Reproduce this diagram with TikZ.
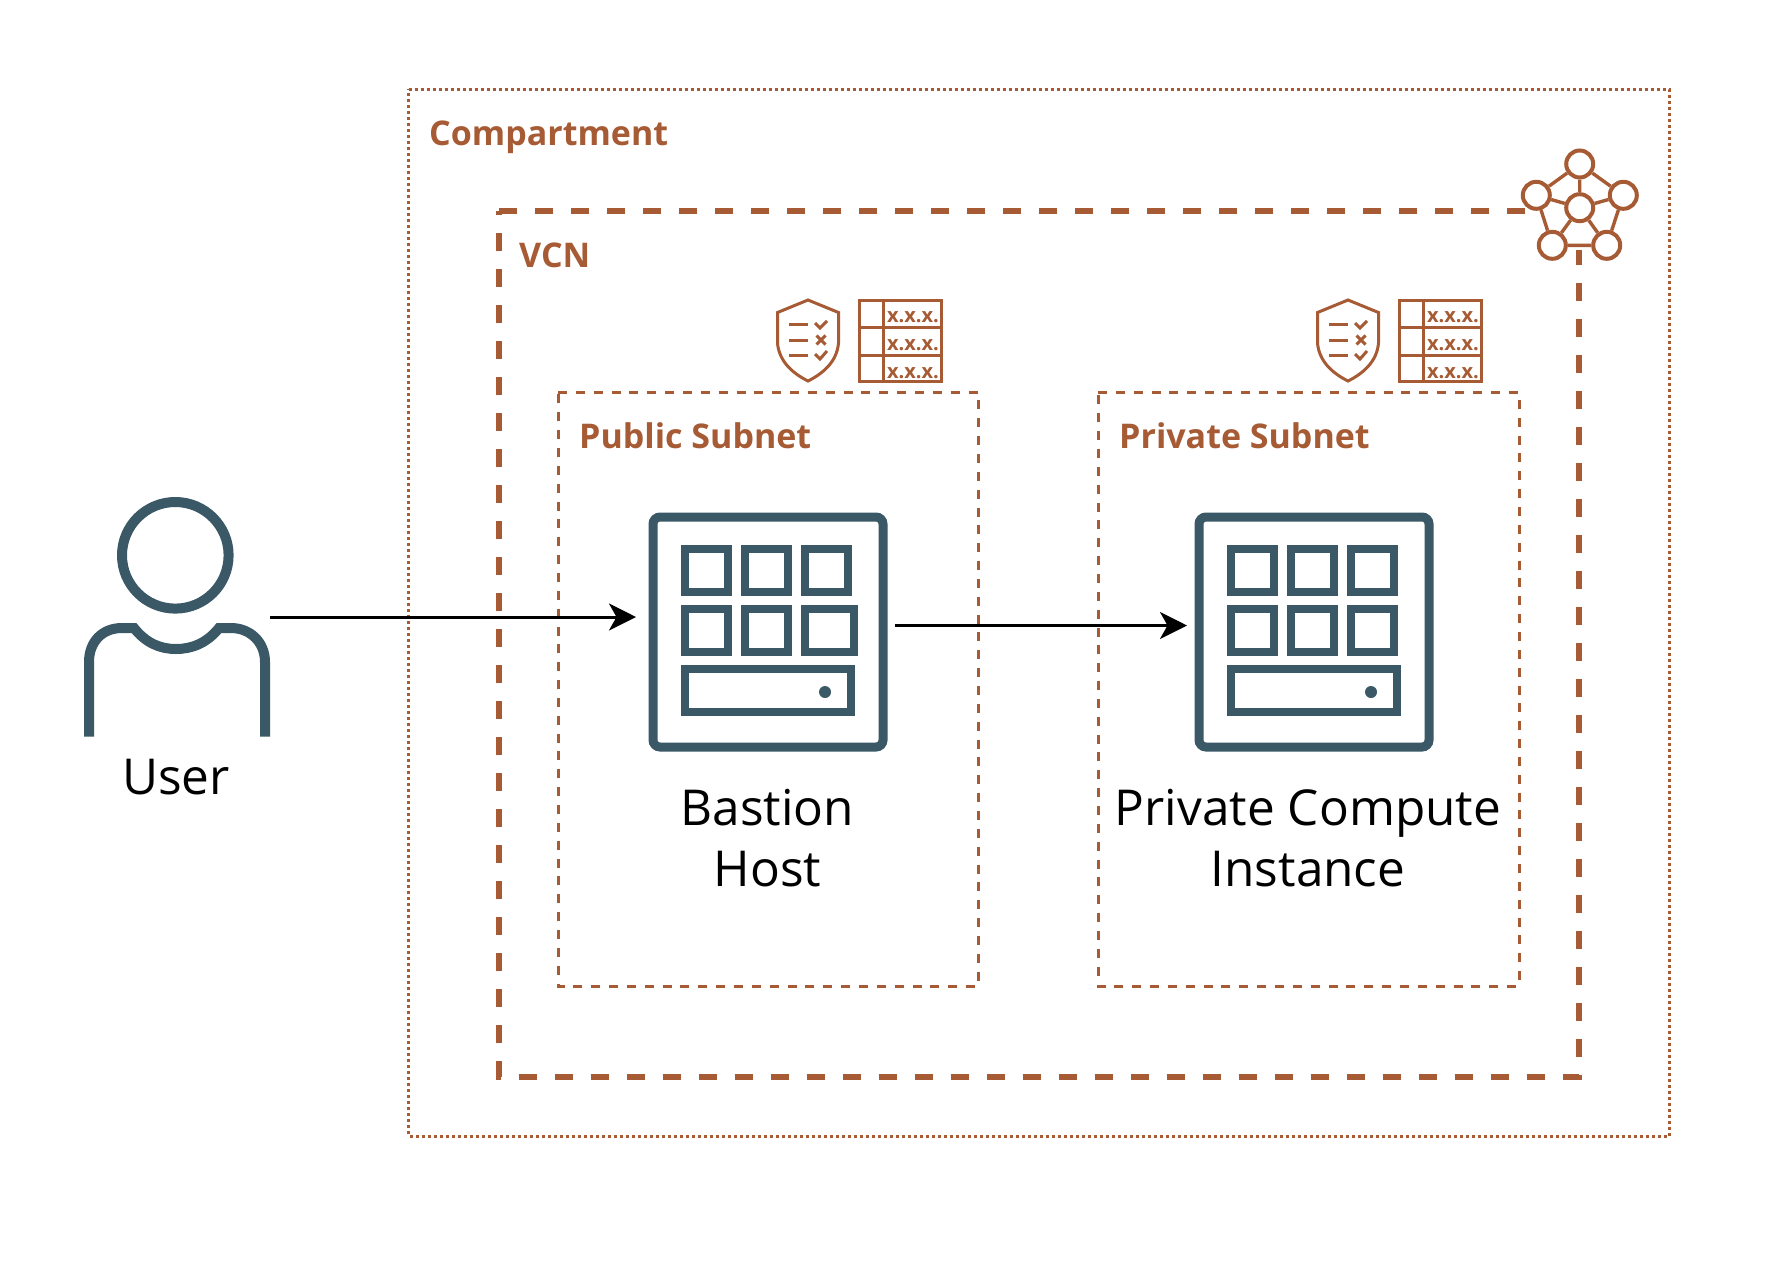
\documentclass[tikz,border=0pt]{standalone}
\usepackage{fontspec}
\setmainfont{Open Sans}
\usetikzlibrary{arrows.meta}
\definecolor{rust}{HTML}{A65B34}
\definecolor{slate}{HTML}{3A5866}
\tikzset{
  x=1pt,y=-1pt,
  compartmentbox/.style={draw=rust,line width=3pt,dash pattern=on 3pt off 3pt},
  vcnbox/.style={draw=rust,line width=6pt,dash pattern=on 18pt off 18pt,line join=miter},
  subnetbox/.style={draw=rust,line width=3pt,dash pattern=on 9pt off 8.85pt},
  rustlabel/.style={text=rust,font=\bfseries\fontsize{34}{42}\selectfont,anchor=base west,inner sep=0pt},
  blacklabel/.style={text=black,font=\fontsize{49.5}{61}\selectfont,align=center,anchor=base,inner sep=0pt},
  iconline/.style={draw=slate,line width=8pt},
  rustline/.style={draw=rust,line width=3pt},
  vcndisc/.style={circle,draw=rust,line width=4pt,fill=white,minimum size=27pt,inner sep=0pt},
  flow/.style={draw=black,line width=3pt,-{Stealth[length=27pt,width=27pt,inset=7.5pt]}},
  anchorbox/.style={minimum width=#1,minimum height=240pt,inner sep=0pt,outer sep=0pt},
  iptext/.style={text=rust,font=\bfseries\fontsize{20}{20}\selectfont,inner sep=0pt},
  server/.pic={
    \draw[iconline,line width=9pt,rounded corners=7pt] (-115,-115) rectangle (115,115);
    \foreach \a/\b/\c/\d in {-83/-83/-40/-40,-23/-83/20/-40,37/-83/80/-40,-83/-23/-40/20,-23/-23/20/20,-83/37/83/80}
      \draw[iconline] (\a,\b) rectangle (\c,\d);
    \fill[slate] (57,60) circle (6);
  },
  guard/.pic={
    \draw[rustline,line join=miter] (0,1) -- (30.5,13.5) -- (30.5,44) .. controls (29,62) and (16,74) .. (0,82) .. controls (-16,74) and (-29,62) .. (-30.5,44) -- (-30.5,13.5) -- cycle;
    \foreach \yy in {25,41,56} \draw[rustline] (-19,\yy) -- (0,\yy);
    \draw[rustline] (7,24) -- (12,29) -- (19,22);
    \draw[rustline] (8.5,36.5) -- (17.5,45.5) (17.5,36.5) -- (8.5,45.5);
    \draw[rustline] (7,55) -- (12,60) -- (19,52);
    \draw[rustline] (51,1) rectangle (133,82);
    \draw[rustline] (75,1) -- (75,82) (51,28) -- (133,28) (51,56) -- (133,56);
    \foreach \yy in {18,46,74} \node[iptext] at (105,\yy) {x.x.x.};
  }
}
\begin{document}
\begin{tikzpicture}
\useasboundingbox (0,0) rectangle (1780,1286);
\fill[white] (0,0) rectangle (1780,1286);
% containers
\draw[compartmentbox] (408.5,89) -- (1669,89) -- (1669,1136) -- (408.5,1136) -- cycle;
\draw[vcnbox] (499,211) -- (1579,211) -- (1579,1077) -- (499,1077) -- cycle;
\draw[subnetbox] (558,392.5) -- (978.5,392.5) -- (978.5,986) -- (558,986) -- cycle;
\draw[subnetbox] (1098,392.5) -- (1519,392.5) -- (1519,986) -- (1098,986) -- cycle;
% labels
\node[rustlabel] (complabel) at (429,145.5) {Compartment};
\node[rustlabel] (vcnlabel) at (519,267) {VCN};
\node[rustlabel] (publabel) at (579,448) {Public Subnet};
\node[rustlabel] (privlabel) at (1119,448) {Private Subnet};
% subnet icons
\pic at (808,299) {guard};
\pic at (1348,299) {guard};
% VCN icon: clear the dashes behind it
\fill[white] (1526,140) rectangle (1645,250);
\node[vcndisc] (vb) at (1579.7,164) {};
\node[vcndisc] (vl) at (1536.3,195.3) {};
\node[vcndisc] (vr) at (1623.3,195.3) {};
\node[vcndisc] (vp) at (1552.3,245.3) {};
\node[vcndisc] (vq) at (1606.7,245.3) {};
\node[vcndisc] (vc) at (1579.7,207.7) {};
\draw[rust,line width=3.4pt] (vb)--(vl) (vb)--(vr) (vl)--(vp) (vr)--(vq) (vp)--(vq) (vc)--(vb) (vc)--(vl) (vc)--(vr) (vc)--(vp) (vc)--(vq);
% servers
\node[anchorbox=240pt] (bastion) at (768,632) {};
\node[anchorbox=240pt] (private) at (1314,632) {};
\pic at (bastion) {server};
\pic at (private) {server};
\draw[iconline] ([shift={(37,-23)}]bastion.center) rectangle ([shift={(86,20)}]bastion.center);
\draw[iconline] ([shift={(37,-23)}]private.center) rectangle ([shift={(80,20)}]private.center);
% user
\node[anchorbox=186pt] (user) at (177,617) {};
\draw[iconline,line width=10pt] (175.3,555.3) circle (53.3);
\draw[iconline,line width=10pt] (89,736.7) -- (89,662) .. controls (89,642) and (102,628) .. (122,628) -- (134,628) .. controls (146,643) and (160,649) .. (176,649) .. controls (192,649) and (207,643) .. (219,628) -- (231,628) .. controls (250,628) and (265,642) .. (265,662) -- (265,736.7);
% text
\node[blacklabel] (usertext) at (176,794.6) {User};
\node[blacklabel] (bastiontext) at (767.5,886.5) {Bastion\\Host};
\node[blacklabel] (privatetext) at (1308,886.5) {Private Compute\\Instance};
% connectors
\draw[flow,shorten >=12pt] (user.east) -- (user.east -| bastion.west);
\draw[flow,shorten <=6.5pt,shorten >=7pt] ([yshift=6.5pt]bastion.east) -- ([yshift=6.5pt]private.west);
\end{tikzpicture}
\end{document}
